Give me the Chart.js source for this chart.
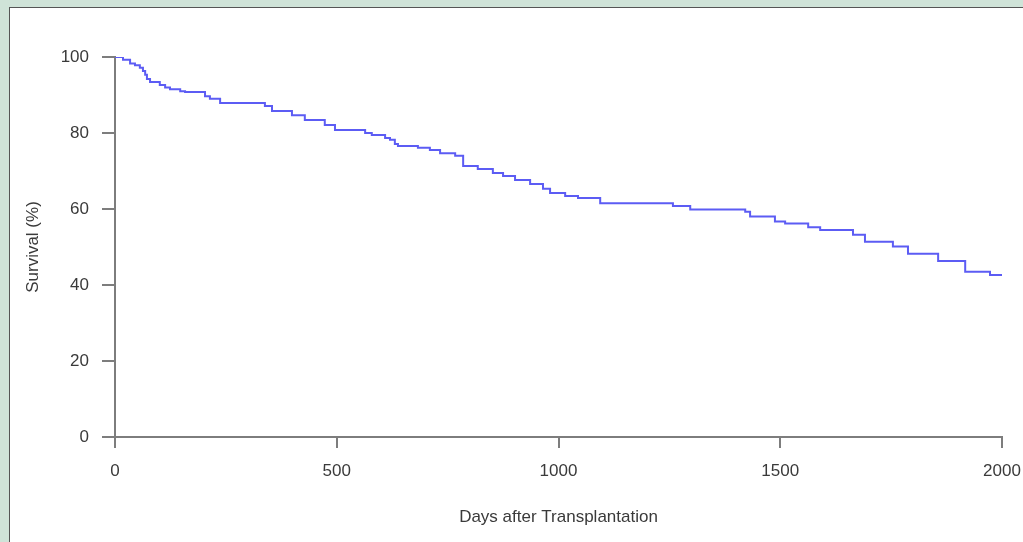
<!DOCTYPE html>
<html>
<head>
<meta charset="utf-8">
<script src="https://cdn.jsdelivr.net/npm/chart.js@4/dist/chart.umd.min.js"></script>
<style>
  html, body { margin: 0; padding: 0; }
  body { width: 1023px; height: 542px; background: #cfe3d8; position: relative; overflow: hidden; }
  #panel {
    position: absolute; left: 9px; top: 7px; width: 1100px; height: 600px;
    background: #fff; border-left: 1px solid #555; border-top: 1px solid #555;
  }
  #wrap { position: absolute; left: 0; top: 0; width: 1023px; height: 542px; }
</style>
</head>
<body>
<div id="panel"></div>
<div id="wrap"><canvas id="kmChart"></canvas></div>
<script>
// ===== データ (Kaplan-Meier 生存曲線) =====
const days = [0, 18, 34, 45, 56, 63, 68, 72, 79, 101, 113, 124, 147, 158, 203, 214, 237, 338, 354,
  399, 428, 473, 496, 564, 579, 609, 620, 631, 638, 683, 710,
  733, 767, 785, 818, 852, 875, 902, 936, 965, 981, 1015, 1044, 1094, 1258, 1297, 1421, 1432,
  1488, 1511, 1563, 1590, 1664, 1691, 1754, 1788, 1856, 1917, 1973, 2000];
const survival = [100, 99.3, 98.3, 97.8, 97.2, 96.3, 95.3, 94.2, 93.4, 92.6, 92, 91.5, 91, 90.8, 89.7, 89, 87.9, 87.1, 85.8,
  84.7, 83.4, 82.1, 80.8, 80, 79.5, 78.7, 78.2, 77.1, 76.6, 76.1, 75.5,
  74.7, 74, 71.3, 70.5, 69.5, 68.7, 67.6, 66.6, 65.3, 64.2, 63.4, 62.9, 61.5, 60.8,
  59.9, 59.3, 58, 56.7, 56.2, 55.2, 54.5, 53.2, 51.4, 50.1, 48.2, 46.3, 43.5, 42.6, 42.6];
const xTicks = [0, 500, 1000, 1500, 2000];
const yTicks = [0, 20, 40, 60, 80, 100];

const axisColor = '#7d7d7d';
const textColor = '#3a3a3a';
const font = { family: '"Liberation Sans", Arial, sans-serif', size: 17 };

new Chart(document.getElementById('kmChart'), {
  type: 'line',
  data: {
    datasets: [{
      label: 'Survival',
      data: days.map((d, i) => ({ x: d, y: survival[i] })),
      borderColor: '#5c5cf4',
      borderWidth: 2,
      pointRadius: 0,
      stepped: true,
      fill: false,
    }]
  },
  options: {
    responsive: true, maintainAspectRatio: false, animation: false,
    layout: { padding: { left: 19, top: 57, right: 21, bottom: 10 } },
    plugins: { legend: { display: false }, tooltip: { enabled: false } },
    scales: {
      x: {
        type: 'linear', min: 0, max: 2000,
        afterFit: s => { s.height = 95; s.paddingLeft = 0; s.paddingRight = 0; },
        afterBuildTicks: s => { s.ticks = xTicks.map(v => ({ value: v })); },
        border: { color: axisColor, width: 2 },
        grid: { drawOnChartArea: false, tickLength: 11, color: axisColor, lineWidth: 2 },
        ticks: { color: textColor, font, padding: 13, maxRotation: 0, callback: v => String(v) },
        title: { display: true, text: 'Days after Transplantation', color: textColor, font }
      },
      y: {
        min: 0, max: 100,
        afterFit: s => { s.width = 96; s.paddingTop = 0; s.paddingBottom = 0; },
        afterBuildTicks: s => { s.ticks = yTicks.map(v => ({ value: v })); },
        border: { color: axisColor, width: 2 },
        grid: { drawOnChartArea: false, tickLength: 13, color: axisColor, lineWidth: 2 },
        ticks: { color: textColor, font, padding: 13, callback: v => String(v) },
        title: { display: true, text: 'Survival (%)', color: textColor, font }
      }
    }
  }
});
</script>
</body>
</html>
